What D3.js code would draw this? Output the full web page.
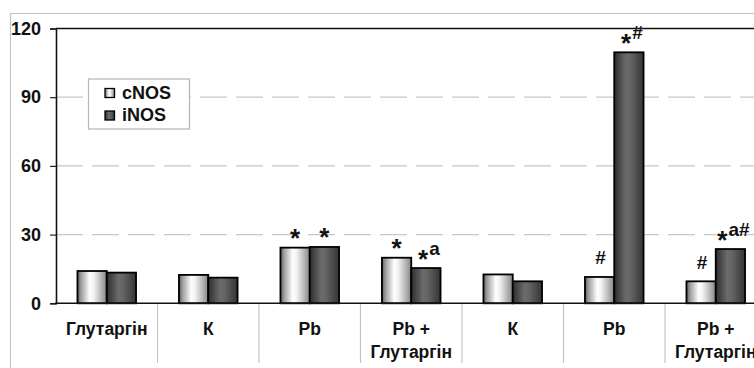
<!DOCTYPE html>
<html>
<head>
<meta charset="utf-8">
<script src="https://cdn.jsdelivr.net/npm/d3@7"></script>
<style>
  html, body { margin: 0; padding: 0; background: #fff; }
  svg { display: block; font-family: "Liberation Sans", Arial, sans-serif; font-weight: bold; }
</style>
</head>
<body>
<svg id="chart" width="754" height="368"></svg>
<script>
// Groups along the x axis (multi-line labels split on "\n")
const categories = ["Глутаргін", "К", "Pb", "Pb +\nГлутаргін", "К", "Pb", "Pb +\nГлутаргін"];
const seriesNames = ["cNOS", "iNOS"];
const cNOS = [14.1, 12.4, 24.3, 19.9, 12.6, 11.5, 9.6];
const iNOS = [13.4, 11.2, 24.6, 15.4, 9.6, 109.6, 23.7];
// Significance marks: main symbol and raised suffix
const cNOSMarks = [["", ""], ["", ""], ["*", ""], ["*", ""], ["", ""], ["", "#"], ["", "#"]];
const iNOSMarks = [["", ""], ["", ""], ["*", ""], ["*", "a"], ["", ""], ["*", "#"], ["*", "a#"]];
const yTicks = [0, 30, 60, 90, 120];

const svg = d3.select("#chart");
const W = 754, H = 368;
const plot = { left: 56, right: 766.5, top: 28.5, bottom: 303.3 };

// Gradients for the cylindrical bar look
const defs = svg.append("defs");
function grad(id, stops) {
  const g = defs.append("linearGradient").attr("id", id)
    .attr("x1", "0%").attr("x2", "100%").attr("y1", "0%").attr("y2", "0%");
  stops.forEach(([o, c]) => g.append("stop").attr("offset", o).attr("stop-color", c));
}
grad("g-cNOS", [["0%", "#5c5c5c"], ["12%", "#9c9c9c"], ["42%", "#ffffff"], ["55%", "#f2f2f2"], ["80%", "#b8b8b8"], ["100%", "#858585"]]);
grad("g-iNOS", [["0%", "#2e2e2e"], ["40%", "#6b6b6b"], ["55%", "#656565"], ["100%", "#343434"]]);

// Chart area frame
svg.append("line").attr("x1", 10).attr("x2", W).attr("y1", 13.5).attr("y2", 13.5)
  .attr("stroke", "#c4c4c4").attr("stroke-width", 1.2);
svg.append("line").attr("x1", 10.5).attr("x2", 10.5).attr("y1", 13).attr("y2", H)
  .attr("stroke", "#c4c4c4").attr("stroke-width", 1.2);

const x0 = d3.scaleBand().domain(d3.range(categories.length)).range([plot.left, plot.right]).padding(0);
const x1 = d3.scaleBand().domain(seriesNames).range([0, x0.bandwidth()]).paddingInner(0).paddingOuter(0.732);
const y = d3.scaleLinear().domain([0, 120]).range([plot.bottom, plot.top]);

// Dashed gridlines
svg.append("g").selectAll("line").data(yTicks.filter(t => t > 0 && t < 120)).join("line")
  .attr("x1", plot.left).attr("x2", W).attr("y1", d => y(d)).attr("y2", d => y(d))
  .attr("stroke", "#c8c8c8").attr("stroke-width", 1.2).attr("stroke-dasharray", "27 9");

// Category separators below the axis
svg.append("g").selectAll("line").data(d3.range(1, categories.length + 1)).join("line")
  .attr("x1", i => plot.left + x0.step() * i)
  .attr("x2", i => plot.left + x0.step() * i)
  .attr("y1", plot.bottom).attr("y2", 363)
  .attr("stroke", "#c4c4c4").attr("stroke-width", 1.2);

// Y axis
const yAxis = d3.axisLeft(y).tickValues(yTicks).tickSize(6).tickPadding(8);
const ya = svg.append("g").attr("transform", `translate(${plot.left},0)`).call(yAxis);
ya.select(".domain").attr("stroke", "#111").attr("stroke-width", 1.6);
ya.selectAll(".tick line").attr("stroke", "#222").attr("stroke-width", 1.2);
ya.selectAll(".tick text").attr("font-size", 18).attr("font-weight", "bold")
  .attr("font-family", "Liberation Sans, Arial, sans-serif").attr("fill", "#111").attr("dx", "-1");

// Plot top border
svg.append("line").attr("x1", plot.left).attr("x2", W).attr("y1", plot.top).attr("y2", plot.top)
  .attr("stroke", "#111").attr("stroke-width", 1.6);

// Bars
const series = [
  { name: "cNOS", values: cNOS, marks: cNOSMarks },
  { name: "iNOS", values: iNOS, marks: iNOSMarks }
];
const groups = svg.append("g").selectAll("g").data(series).join("g");
groups.selectAll("rect").data(s => s.values.map((v, i) => ({ s: s.name, v, i }))).join("rect")
  .attr("x", d => x0(d.i) + x1(d.s))
  .attr("y", d => y(d.v))
  .attr("width", x1.bandwidth())
  .attr("height", d => y(0) - y(d.v))
  .attr("fill", d => `url(#g-${d.s})`)
  .attr("stroke", "#000").attr("stroke-width", 1.8);

// X axis line
svg.append("line").attr("x1", plot.left - 1).attr("x2", W).attr("y1", plot.bottom).attr("y2", plot.bottom)
  .attr("stroke", "#111").attr("stroke-width", 1.6);

// Category labels
const cl = svg.append("g").selectAll("text").data(categories).join("text")
  .attr("x", (d, i) => x0(i) + x0.bandwidth() / 2)
  .attr("y", 335)
  .attr("text-anchor", "middle").attr("font-size", 17.5).attr("fill", "#111");
cl.selectAll("tspan").data(d => d.split("\n")).join("tspan")
  .attr("x", function () { return this.parentNode.getAttribute("x"); })
  .attr("dy", (d, j) => j === 0 ? 0 : 23)
  .text(d => d);

// Significance marks above bars
series.forEach(s => {
  s.values.forEach((v, i) => {
    const [main, sup] = s.marks[i];
    if (!main && !sup) return;
    const cx = x0(i) + x1(s.name) + x1.bandwidth() / 2;
    const t = svg.append("text").attr("text-anchor", "middle").attr("fill", "#111");
    if (main) {
      t.attr("x", cx + (sup ? 3 : 0)).attr("y", y(v) - 0.5);
      t.append("tspan").attr("font-size", 26).text(main);
      if (sup) t.append("tspan").attr("font-size", 19).attr("dy", -13).attr("dx", 1).text(sup);
    } else {
      t.attr("x", cx + 1).attr("y", y(v) - 12.5).attr("font-size", 19).text(sup);
    }
  });
});

// Legend
const lg = svg.append("g").attr("transform", "translate(88.5,79)");
lg.append("rect").attr("width", 101).attr("height", 50).attr("fill", "#fff")
  .attr("stroke", "#b4b4b4").attr("stroke-width", 1.2);
seriesNames.forEach((n, k) => {
  const yy = 9.5 + k * 22.5;
  lg.append("rect").attr("x", 16.5).attr("y", yy).attr("width", 9.5).attr("height", 9)
    .attr("fill", `url(#g-${n})`).attr("stroke", "#000").attr("stroke-width", 1.3);
  lg.append("text").attr("x", 33.5).attr("y", yy + 10).attr("font-size", 18).attr("fill", "#111").text(n);
});
</script>
</body>
</html>
